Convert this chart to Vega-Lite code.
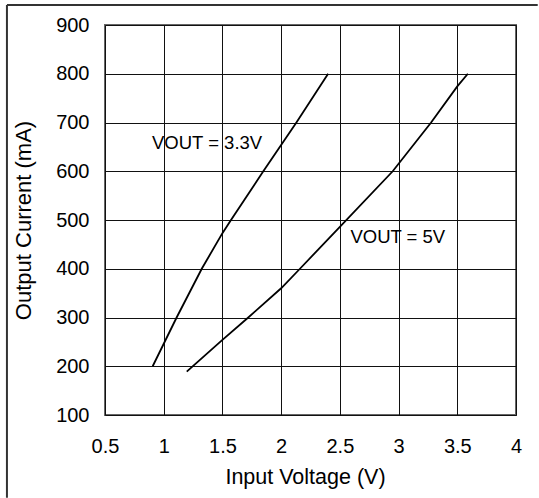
{
  "$schema": "https://vega.github.io/schema/vega-lite/v6.json",
  "width": 411,
  "height": 390,
  "autosize": {"type": "none"},
  "padding": {"left": 105, "top": 25, "right": 23, "bottom": 83},
  "background": "white",
  "config": {
    "font": "Liberation Sans",
    "view": {"stroke": "#666666", "strokeWidth": 2},
    "axis": {"grid": true, "labelFont": "Liberation Sans", "titleFont": "Liberation Sans", "labelColor": "#000", "titleColor": "#000", "titleFontWeight": "normal", "gridColor": "#111", "gridOpacity": 1, "gridWidth": 1, "ticks": false, "domain": false}
  },
  "datasets": {
    "curves": [
      {"series": "3.3V", "vin": 0.906, "iout": 200},
      {"series": "3.3V", "vin": 1.11, "iout": 300},
      {"series": "3.3V", "vin": 1.324, "iout": 400},
      {"series": "3.3V", "vin": 1.5, "iout": 473},
      {"series": "3.3V", "vin": 1.573, "iout": 500},
      {"series": "3.3V", "vin": 1.848, "iout": 600},
      {"series": "3.3V", "vin": 2.13, "iout": 700},
      {"series": "3.3V", "vin": 2.40, "iout": 800},
      {"series": "5V", "vin": 1.196, "iout": 189},
      {"series": "5V", "vin": 1.5, "iout": 254},
      {"series": "5V", "vin": 1.72, "iout": 300},
      {"series": "5V", "vin": 2.0, "iout": 360},
      {"series": "5V", "vin": 2.16, "iout": 400},
      {"series": "5V", "vin": 2.5, "iout": 486},
      {"series": "5V", "vin": 2.95, "iout": 600},
      {"series": "5V", "vin": 3.277, "iout": 700},
      {"series": "5V", "vin": 3.5, "iout": 774},
      {"series": "5V", "vin": 3.59, "iout": 800}
    ],
    "labels": [
      {"text": "VOUT = 3.3V", "vin": 0.9, "iout": 658},
      {"text": "VOUT = 5V", "vin": 2.59, "iout": 465}
    ]
  },
  "layer": [
    {
      "data": {"name": "curves"},
      "mark": {"type": "line", "color": "#000", "strokeWidth": 1.8},
      "encoding": {
        "x": {"field": "vin", "type": "quantitative", "scale": {"domain": [0.5, 4], "nice": false, "zero": false},
              "axis": {"title": "Input Voltage (V)", "grid": true, "values": [0.5, 1, 1.5, 2, 2.5, 3, 3.5, 4], "labelFontSize": 20, "titleFontSize": 21.5, "labelPadding": 21, "titlePadding": 10, "titleX": 200, "labelFlush": false, "format": "~g"}},
        "y": {"field": "iout", "type": "quantitative", "scale": {"domain": [100, 900], "nice": false, "zero": false},
              "axis": {"title": "Output Current (mA)", "grid": true, "values": [100, 200, 300, 400, 500, 600, 700, 800, 900], "labelFontSize": 20, "titleFontSize": 22, "labelPadding": 16, "titlePadding": 20, "labelFlush": false}},
        "detail": {"field": "series"},
        "order": {"field": "iout", "type": "quantitative"}
      }
    },
    {
      "data": {"name": "labels"},
      "mark": {"type": "text", "align": "left", "baseline": "middle", "fontSize": 18.5, "color": "#000"},
      "encoding": {
        "x": {"field": "vin", "type": "quantitative"},
        "y": {"field": "iout", "type": "quantitative"},
        "text": {"field": "text"}
      }
    },
    {
      "data": {"values": [{}]},
      "mark": {"type": "rule", "stroke": "#333", "strokeWidth": 2, "clip": false},
      "encoding": {
        "x": {"datum": -0.335, "type": "quantitative"},
        "y": {"datum": 941, "type": "quantitative"},
        "y2": {"datum": -70}
      }
    },
    {
      "data": {"values": [{}]},
      "mark": {"type": "rule", "stroke": "#333", "strokeWidth": 2, "clip": false},
      "encoding": {
        "x": {"datum": -0.335, "type": "quantitative"},
        "x2": {"datum": 4.185},
        "y": {"datum": 941, "type": "quantitative"}
      }
    }
  ]
}
